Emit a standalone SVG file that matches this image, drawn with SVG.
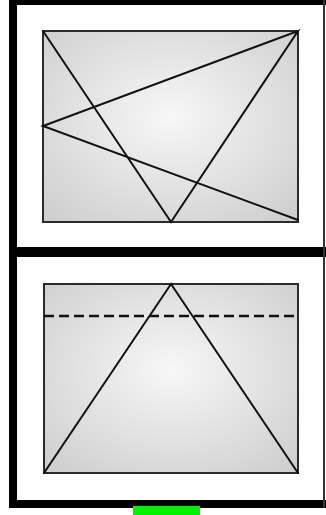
<svg xmlns="http://www.w3.org/2000/svg" width="326" height="515" viewBox="0 0 326 515">
<style>
.frame{fill:#000}
.pane{fill:url(#g);stroke:#2b2b2b;stroke-width:2}
.ln{stroke:#111;stroke-width:2;fill:none;stroke-linecap:round}
.dash{stroke:#111;stroke-width:2.5;fill:none;stroke-dasharray:10 5}
</style>
<defs>
<radialGradient id="g" cx="0.5" cy="0.45" r="0.7">
<stop offset="0" stop-color="#f7f7f7"/>
<stop offset="1" stop-color="#cfcfcf"/>
</radialGradient>
</defs>
<rect width="326" height="515" fill="#fff"/>
<g id="frame">
<rect class="frame" x="9" y="0" width="317" height="5"/>
<rect class="frame" x="9" y="0" width="8" height="508"/>
<rect class="frame" x="9" y="500" width="317" height="8"/>
<rect class="frame" x="9" y="247" width="317" height="10"/>
<rect x="323" y="0" width="2" height="508" fill="#333"/>
</g>
<g id="sash-top">
<rect class="pane" x="43" y="31" width="255" height="191"/>
</g>
<g id="sash-bottom">
<rect class="pane" x="44" y="284" width="254" height="189"/>
</g>
<g id="connectors">
<path class="ln" d="M43 31 L171 222 L298 31 L43 126 L298 220"/>
<path class="ln" d="M44 473 L171 284 L298 473"/>
<path class="dash" d="M44 316 H298"/>
</g>
<rect id="handle" x="133" y="506" width="67" height="9" fill="#00ee00"/>
</svg>
